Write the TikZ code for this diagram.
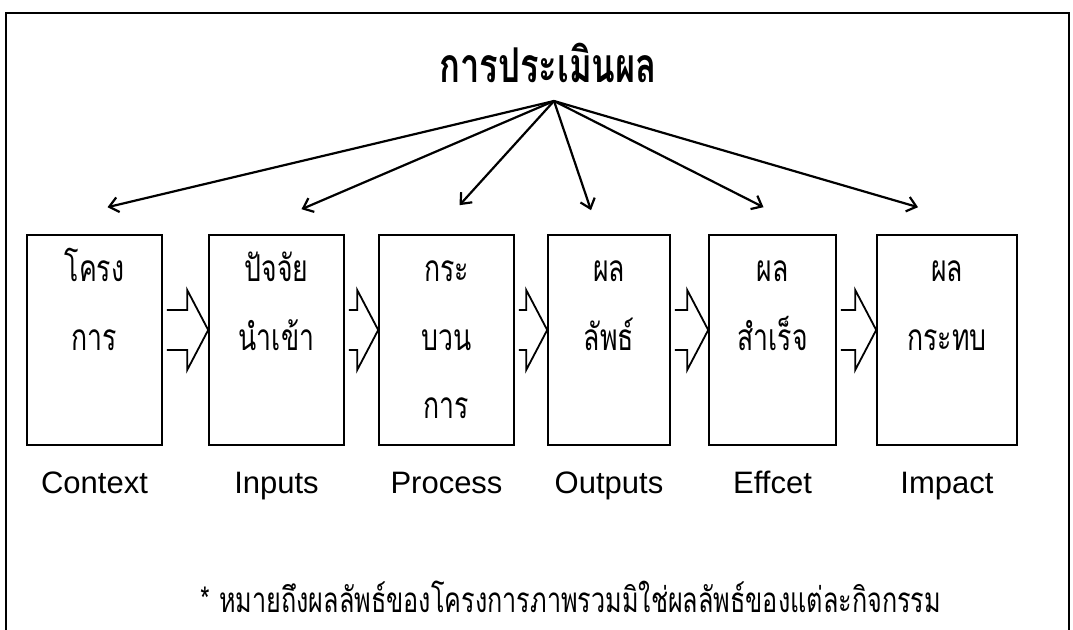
\documentclass[tikz,border=0pt]{standalone}
\usepackage{fontspec}
\setmainfont{Liberation Sans}
\newfontfamily\thaifont[Script=Thai, FakeStretch=0.72]{Loma}
\usetikzlibrary{arrows.meta,positioning,calc}

% same top line height in every box
\newcommand{\firstrow}{\rule{0pt}{38pt}}

\tikzset{
  stage/.style={draw, line width=1.6pt, minimum width=#1, minimum height=210pt, inner sep=0pt},
  stagetext/.style={font=\thaifont\fontsize{37}{68.5}\selectfont, align=center, anchor=north},
  stagename/.style={font=\fontsize{31}{36}\selectfont, anchor=base},
  evalarrow/.style={line width=2.2pt, -{Straight Barb[length=9pt,width=15pt]}},
  flow/.style={line width=1.8pt, line join=miter},
}

% hollow block arrow from the right side of #1 to the left side of #2
\newcommand{\flowarrow}[2]{%
  \draw[flow] ($(#1.east)+(4,-30)$) -- ($(#2.west)+(-21,-30)$) -- ($(#2.west)+(-21,-50)$)
    -- ($(#2.west)+(0,-10)$) -- ($(#2.west)+(-21,30)$) -- ($(#2.west)+(-21,10)$)
    -- ($(#1.east)+(4,10)$);}

\begin{document}
\begin{tikzpicture}[x=1pt, y=-1pt]
  \useasboundingbox (0,0) rectangle (1073,629);
  % open frame
  \draw[line width=1.8pt] (6,640) -- (6,13) -- (1069,13) -- (1069,640);

  \node[font=\thaifont\bfseries\fontsize{48}{52}\selectfont, anchor=base] (title) at (548,82) {การประเมินผล};
  \coordinate (hub) at (554,101);

  % the six stages
  \node[stage=135pt] (b1) at (94.5,340) {};
  \node[stage=135pt] (b2) at (276.5,340) {};
  \node[stage=135pt] (b3) at (446.5,340) {};
  \node[stage=122pt] (b4) at (609,340) {};
  \node[stage=127pt] (b5) at (772.5,340) {};
  \node[stage=140pt] (b6) at (947,340) {};

  \node[stagetext] (t1) at ($(b1.north)+(0,6)$) {\firstrow โครง\\การ};
  \node[stagetext] (t2) at ($(b2.north)+(0,6)$) {\firstrow ปัจจัย\\นำเข้า};
  \node[stagetext] (t3) at ($(b3.north)+(0,6)$) {\firstrow กระ\\บวน\\การ};
  \node[stagetext] (t4) at ($(b4.north)+(0,6)$) {\firstrow ผล\\ลัพธ์};
  \node[stagetext] (t5) at ($(b5.north)+(0,6)$) {\firstrow ผล\\สำเร็จ};
  \node[stagetext] (t6) at ($(b6.north)+(0,6)$) {\firstrow ผล\\กระทบ};

  \node[stagename] (n1) at ($(b1.south)+(0,48)$) {Context};
  \node[stagename] (n2) at ($(b2.south)+(0,48)$) {Inputs};
  \node[stagename] (n3) at ($(b3.south)+(0,48)$) {Process};
  \node[stagename] (n4) at ($(b4.south)+(0,48)$) {Outputs};
  \node[stagename] (n5) at ($(b5.south)+(0,48)$) {Effcet};
  \node[stagename] (n6) at ($(b6.south)+(0,48)$) {Impact};

  \flowarrow{b1}{b2}
  \flowarrow{b2}{b3}
  \flowarrow{b3}{b4}
  \flowarrow{b4}{b5}
  \flowarrow{b5}{b6}

  % evaluation reaches every stage
  \coordinate (a1) at ($(b1.north)+(13,-27)$);
  \coordinate (a2) at ($(b2.north)+(25,-25)$);
  \coordinate (a3) at ($(b3.north)+(13,-29)$);
  \coordinate (a4) at ($(b4.north)+(-18,-24)$);
  \coordinate (a5) at ($(b5.north)+(-9,-27)$);
  \coordinate (a6) at ($(b6.north)+(-29,-27)$);
  \foreach \i in {1,...,6}
    \draw[evalarrow] (hub) -- (a\i);

  \node[font=\thaifont\fontsize{35}{40}\selectfont, anchor=base, inner sep=1pt] (note) at (571,612) {* หมายถึงผลลัพธ์ของโครงการภาพรวมมิใช่ผลลัพธ์ของแต่ละกิจกรรม};
\end{tikzpicture}
\end{document}
